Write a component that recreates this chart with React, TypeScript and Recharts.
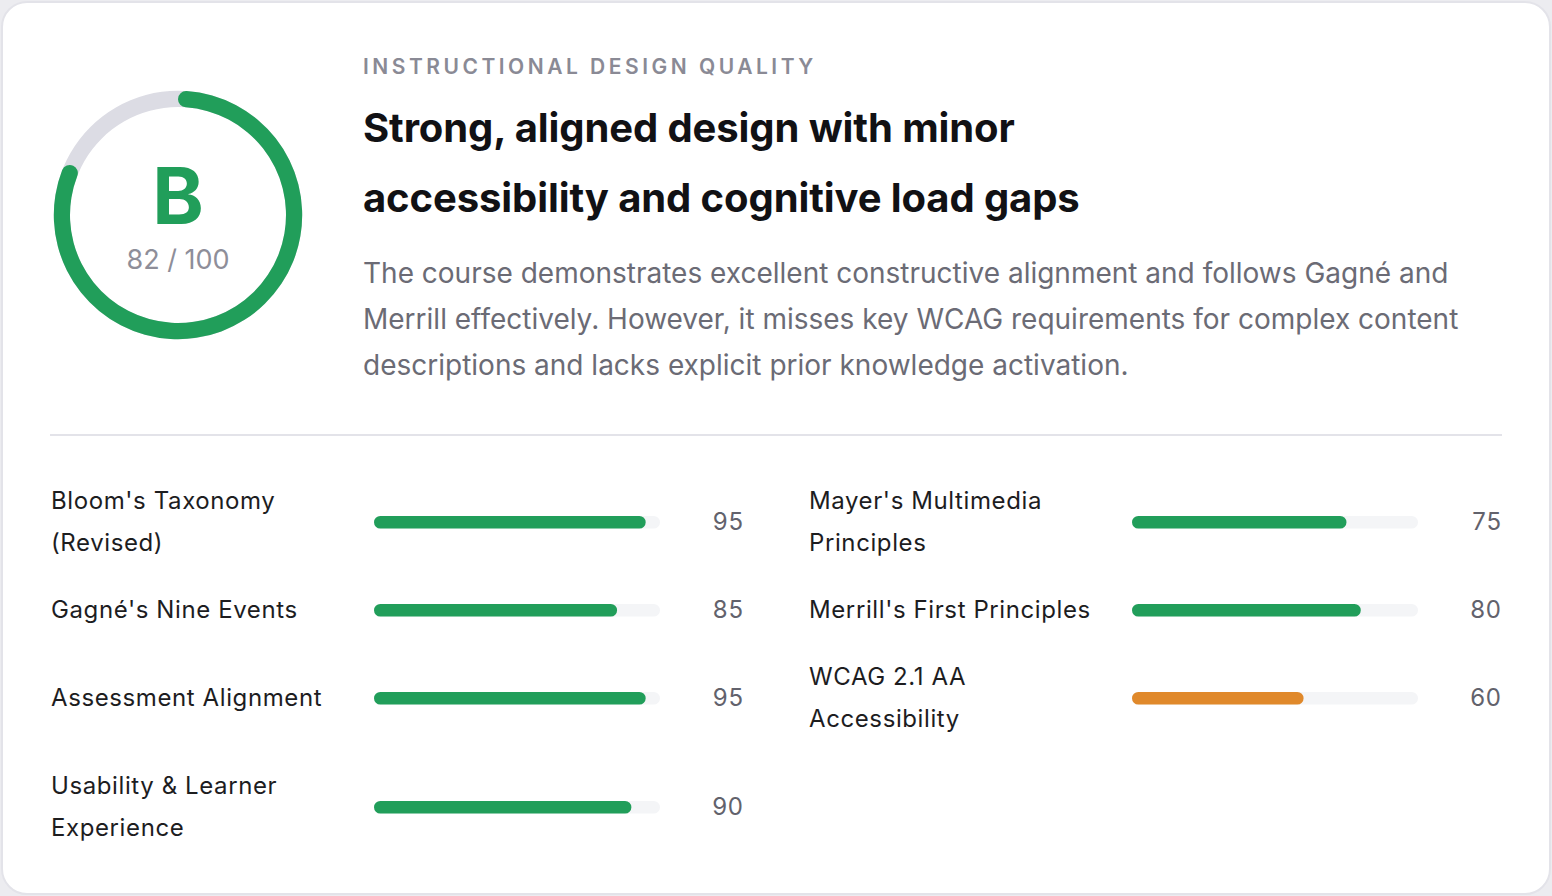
import React from 'react'
import {
  Bar,
  BarChart,
  PolarAngleAxis,
  RadialBar,
  RadialBarChart,
  XAxis,
  YAxis,
} from 'recharts'

// overall grade
const overallScore = [82]
const overallMax = 100
const overallGrade = 'B'

// framework scores, left column then right column
const leftLabels = ["Bloom's Taxonomy\n(Revised)", "Gagné's Nine Events", 'Assessment Alignment', 'Usability & Learner\nExperience']
const leftScores = [95, 85, 95, 90]
const rightLabels = ["Mayer's Multimedia\nPrinciples", "Merrill's First Principles", 'WCAG 2.1 AA\nAccessibility']
const rightScores = [75, 80, 60]

const GREEN = '#219e5a'
const ORANGE = '#e0892b'
const FONT = 'Inter, "Noto Sans", sans-serif'

const summaryLines = [
  'The course demonstrates excellent constructive alignment and follows Gagné and',
  'Merrill effectively. However, it misses key WCAG requirements for complex content',
  'descriptions and lacks explicit prior knowledge activation.',
]

function Gauge() {
  const data = overallScore.map(v => ({ name: 'score', value: v }))
  return (
    <div style={{ position: 'absolute', left: 48, top: 85, width: 260, height: 260 }}>
      <RadialBarChart
        width={260}
        height={260}
        data={data}
        innerRadius={107}
        outerRadius={125}
        barSize={18}
        startAngle={90}
        endAngle={-270}
        margin={{ top: 0, right: 0, bottom: 0, left: 0 }}
      >
        <PolarAngleAxis type="number" domain={[0, overallMax]} tick={false} axisLine={false} />
        <RadialBar
          dataKey="value"
          fill={GREEN}
          cornerRadius={9}
          background={{ fill: '#dcdce4', cornerRadius: 0 }}
          isAnimationActive={false}
        />
      </RadialBarChart>
      <div
        style={{
          position: 'absolute', left: 0, width: 260, top: 71.6, textAlign: 'center',
          fontSize: 78, lineHeight: '78px', fontWeight: 700, color: GREEN,
        }}
      >
        {overallGrade}
      </div>
      <div
        style={{
          position: 'absolute', left: 0, width: 260, top: 160, textAlign: 'center',
          fontSize: 27, lineHeight: '30px', color: '#8e8e99',
        }}
      >
        {overallScore[0]} / {overallMax}
      </div>
    </div>
  )
}

function ScoreBar({ score }: { score: number }) {
  const color = score < 70 ? ORANGE : GREEN
  return (
    <BarChart
      width={286}
      height={14}
      layout="vertical"
      data={[{ name: 'score', score }]}
      margin={{ top: 0, right: 0, bottom: 0, left: 0 }}
    >
      <XAxis type="number" domain={[0, 100]} hide />
      <YAxis type="category" dataKey="name" hide />
      <Bar
        dataKey="score"
        barSize={14}
        fill={color}
        radius={7}
        background={{ fill: '#f4f5f7', radius: 7 }}
        isAnimationActive={false}
      />
    </BarChart>
  )
}

function ScoreRow({ label, score }: { label: string, score: number }) {
  return (
    <div style={{ display: 'flex', alignItems: 'center', width: 692 }}>
      <div
        style={{
          width: 323, flex: 'none', whiteSpace: 'pre-line', fontSize: 24, lineHeight: '42px',
          letterSpacing: 0.6, color: '#1d1d1f',
        }}
      >
        {label}
      </div>
      <div style={{ width: 286, height: 14, flex: 'none' }}>
        <ScoreBar score={score} />
      </div>
      <div style={{ flex: 1, textAlign: 'right', fontSize: 24, lineHeight: '42px', letterSpacing: 0.8, marginRight: -0.8, color: '#62626c' }}>
        {score}
      </div>
    </div>
  )
}

export default function App() {
  const rowCount = Math.max(leftLabels.length, rightLabels.length)
  const cells: React.ReactNode[] = []
  for (let i = 0; i < rowCount; i++) {
    cells.push(i < leftLabels.length ? <ScoreRow key={'l' + i} label={leftLabels[i]} score={leftScores[i]} /> : <div key={'l' + i} />)
    cells.push(i < rightLabels.length ? <ScoreRow key={'r' + i} label={rightLabels[i]} score={rightScores[i]} /> : <div key={'r' + i} />)
  }

  return (
    <div style={{ position: 'relative', width: 1552, height: 896, background: '#ececf0', fontFamily: FONT, overflow: 'hidden' }}>
      <style>{'body{margin:0;}'}</style>
      <div
        style={{
          position: 'absolute', left: 1, top: 1, width: 1550, height: 894, boxSizing: 'border-box',
          background: '#ffffff', border: '2px solid #e3e3e9', borderRadius: 26,
        }}
      />
      <Gauge />
      <div
        style={{
          position: 'absolute', left: 363, top: 55, fontSize: 21, lineHeight: '24px', fontWeight: 600,
          letterSpacing: 3.5, color: '#8a8a95', whiteSpace: 'nowrap',
        }}
      >
        INSTRUCTIONAL DESIGN QUALITY
      </div>
      <div
        style={{
          position: 'absolute', left: 363, top: 93, fontSize: 40, lineHeight: '70px', fontWeight: 700,
          letterSpacing: -0.1, color: '#111114', whiteSpace: 'nowrap',
        }}
      >
        Strong, aligned design with minor
        <br />
        accessibility and cognitive load gaps
      </div>
      <div
        style={{
          position: 'absolute', left: 363, top: 250, fontSize: 28, lineHeight: '46px',
          color: '#6b6b75', whiteSpace: 'nowrap',
        }}
      >
        {summaryLines.map(line => <div key={line}>{line}</div>)}
      </div>
      <div style={{ position: 'absolute', left: 50, top: 434, width: 1452, height: 2, background: '#e3e3e9' }} />
      <div
        style={{
          position: 'absolute', left: 51, top: 480, display: 'grid',
          gridTemplateColumns: '692px 692px', columnGap: 66, rowGap: 25,
        }}
      >
        {cells}
      </div>
    </div>
  )
}
